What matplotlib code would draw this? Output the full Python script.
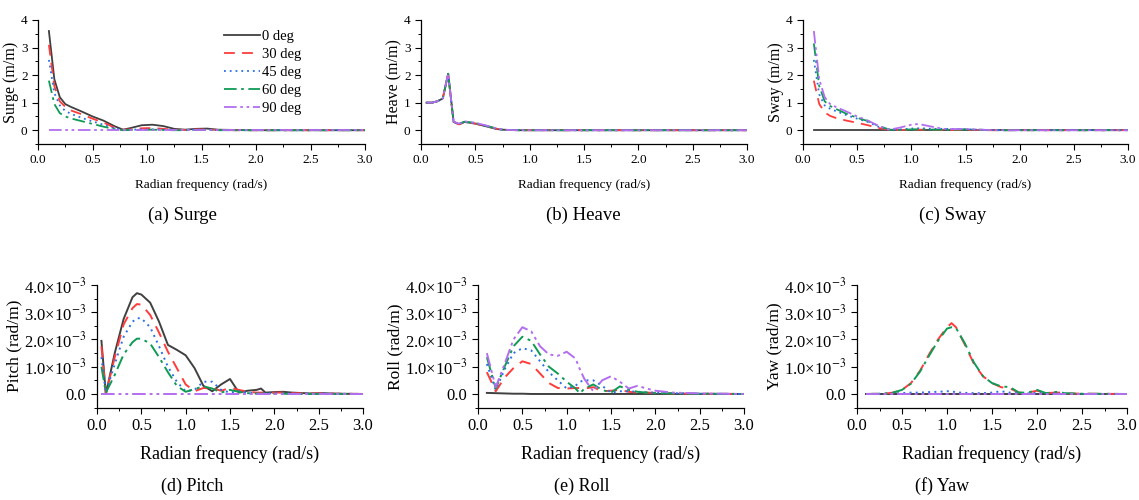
#!/usr/bin/env python3
# plot.py
# Six-panel RAO chart (surge/heave/sway, pitch/roll/yaw) for five wave headings.

import matplotlib
matplotlib.use("Agg")
import matplotlib.pyplot as plt
from matplotlib.ticker import MultipleLocator, FuncFormatter

plt.rcParams["font.family"] = ["Liberation Serif", "DejaVu Serif"]
plt.rcParams["mathtext.fontset"] = "stix"

# headings and styles
LABELS = ["0 deg", "30 deg", "45 deg", "60 deg", "90 deg"]
COLORS = ["#404040", "#ff3b3b", "#2a6ee8", "#0f9a55", "#b36ef0"]
STYLES = ["-", (0, (6, 4)), (0, (1, 2.2)), (0, (7, 2.5, 1.5, 2.5)), (0, (7, 2, 1.5, 2, 1.5, 2))]

# ---- Surge (m/m)
surge_x = [0.1, 0.15, 0.2, 0.25, 0.3, 0.4, 0.5, 0.6, 0.7, 0.78, 0.85, 0.95, 1.05,
           1.15, 1.25, 1.35, 1.45, 1.55, 1.65, 1.8, 2.0, 2.5, 3.0]
surge_0 = [3.6, 1.85, 1.2, 0.95, 0.85, 0.68, 0.5, 0.35, 0.15, 0.02, 0.08, 0.18, 0.2,
           0.15, 0.05, 0.02, 0.05, 0.06, 0.02, 0.01, 0, 0, 0]
surge_30 = [3.1, 1.6, 1.05, 0.85, 0.72, 0.58, 0.42, 0.28, 0.1, 0.02, 0.03, 0.07, 0.08,
            0.05, 0.02, 0.01, 0.03, 0.03, 0.01, 0, 0, 0, 0]
surge_45 = [2.55, 1.35, 0.9, 0.7, 0.6, 0.45, 0.32, 0.2, 0.07, 0.01, 0.02, 0.03, 0.03,
            0.02, 0.01, 0.01, 0.02, 0.02, 0.01, 0, 0, 0, 0]
surge_60 = [1.8, 0.95, 0.62, 0.5, 0.43, 0.33, 0.23, 0.13, 0.04, 0.0, 0.01, 0.01, 0.02,
            0.01, 0, 0, 0.01, 0.01, 0, 0, 0, 0, 0]
surge_90 = [0] * 23

# ---- Heave (m/m)
heave_x = [0.05, 0.1, 0.15, 0.2, 0.25, 0.3, 0.35, 0.4, 0.45, 0.5, 0.55, 0.6, 0.65,
           0.7, 0.75, 0.8, 0.9, 1.0, 1.5, 2.0, 2.5, 3.0]
heave_0 = [1.0, 1.0, 1.05, 1.15, 2.05, 0.3, 0.22, 0.3, 0.27, 0.24, 0.19, 0.14, 0.09,
           0.04, 0.02, 0.01, 0, 0, 0, 0, 0, 0]
heave_30 = [1.0, 1.0, 1.05, 1.15, 2.04, 0.3, 0.21, 0.29, 0.27, 0.24, 0.19, 0.14, 0.1,
            0.05, 0.02, 0.01, 0, 0, 0, 0, 0, 0]
heave_45 = [1.0, 1.0, 1.05, 1.15, 2.04, 0.3, 0.22, 0.3, 0.28, 0.25, 0.2, 0.15, 0.1,
            0.05, 0.02, 0.01, 0, 0, 0, 0, 0, 0]
heave_60 = [1.0, 1.0, 1.05, 1.15, 2.05, 0.31, 0.23, 0.31, 0.29, 0.26, 0.21, 0.16, 0.11,
            0.05, 0.02, 0.01, 0, 0, 0, 0, 0, 0]
heave_90 = [1.0, 1.0, 1.05, 1.15, 2.05, 0.31, 0.24, 0.32, 0.3, 0.27, 0.22, 0.17, 0.12,
            0.06, 0.03, 0.01, 0, 0, 0, 0, 0, 0]

# ---- Sway (m/m)
sway_x = [0.1, 0.15, 0.2, 0.25, 0.3, 0.4, 0.5, 0.6, 0.7, 0.8, 0.9, 1.0, 1.05, 1.1,
          1.2, 1.3, 1.4, 1.5, 1.6, 1.7, 1.8, 2.0, 2.5, 3.0]
sway_0 = [0] * 24
sway_30 = [1.8, 0.95, 0.65, 0.52, 0.45, 0.35, 0.27, 0.18, 0.08, 0.01, 0.01, 0.02, 0.02,
           0.02, 0.02, 0.01, 0.01, 0.01, 0.01, 0, 0, 0, 0, 0]
sway_45 = [2.55, 1.3, 0.9, 0.78, 0.7, 0.55, 0.42, 0.3, 0.12, 0.02, 0.03, 0.06, 0.07,
           0.07, 0.05, 0.05, 0.04, 0.04, 0.02, 0.01, 0, 0, 0, 0]
sway_60 = [3.15, 1.6, 1.05, 0.88, 0.78, 0.6, 0.45, 0.33, 0.15, 0.02, 0.01, 0.03, 0.03,
           0.03, 0.02, 0.02, 0.02, 0.03, 0.02, 0.01, 0, 0, 0, 0]
sway_90 = [3.6, 1.85, 1.2, 0.95, 0.85, 0.68, 0.5, 0.35, 0.15, 0.02, 0.1, 0.2, 0.22,
           0.2, 0.12, 0.05, 0.04, 0.05, 0.03, 0.01, 0, 0, 0, 0]

# ---- Pitch (x1e-3 rad/m)
pitch_x = [0.05, 0.1, 0.2, 0.3, 0.4, 0.45, 0.5, 0.6, 0.7, 0.8, 0.9, 1.0, 1.1, 1.2,
           1.3, 1.4, 1.5, 1.6, 1.7, 1.8, 1.85, 1.9, 2.0, 2.1, 2.2, 2.4, 2.55, 2.7, 3.0]
pitch_0 = [1.95, 0.0, 1.5, 2.75, 3.55, 3.7, 3.65, 3.35, 2.65, 1.8, 1.62, 1.42, 0.95,
           0.3, 0.1, 0.35, 0.55, 0.05, 0.12, 0.15, 0.2, 0.05, 0.07, 0.08, 0.05, 0.02,
           0.03, 0.01, 0]
pitch_30 = [1.75, 0.0, 1.35, 2.55, 3.15, 3.3, 3.28, 2.9, 2.25, 1.55, 0.95, 0.35, 0.1,
            0.22, 0.2, 0.12, 0.22, 0.15, 0.08, 0.05, 0.05, 0.04, 0.05, 0.05, 0.03, 0.02,
            0.02, 0.01, 0]
pitch_45 = [1.35, 0.05, 1.1, 2.1, 2.65, 2.78, 2.78, 2.45, 1.75, 1.0, 0.45, 0.1, 0.15,
            0.45, 0.45, 0.15, 0.05, 0.1, 0.05, 0.02, 0.02, 0.02, 0.03, 0.02, 0.01, 0.01,
            0.01, 0.01, 0]
pitch_60 = [1.0, 0.05, 0.7, 1.45, 1.9, 2.03, 2.03, 1.85, 1.35, 0.8, 0.3, 0.08, 0.18,
            0.28, 0.2, 0.05, 0.15, 0.08, 0.03, 0.01, 0.01, 0.01, 0.01, 0.01, 0, 0,
            0, 0, 0]
pitch_90 = [0] * 29

# ---- Roll (x1e-3 rad/m)
roll_x = [0.1, 0.2, 0.3, 0.4, 0.5, 0.6, 0.7, 0.8, 0.9, 1.0, 1.1, 1.15, 1.2, 1.3, 1.4,
          1.5, 1.6, 1.7, 1.8, 1.9, 2.0, 2.2, 2.5, 3.0]
roll_0 = [0.04, 0.03, 0.02, 0.01, 0.01, 0, 0, 0, 0, 0, 0, 0, 0, 0, 0, 0, 0, 0, 0, 0,
          0, 0, 0, 0]
roll_30 = [0.8, 0.1, 0.6, 0.95, 1.2, 1.1, 0.75, 0.4, 0.22, 0.2, 0.22, 0.22, 0.2, 0.25,
           0.1, 0.12, 0.15, 0.08, 0.05, 0.05, 0.04, 0.02, 0.01, 0]
roll_45 = [1.1, 0.15, 0.9, 1.5, 1.68, 1.6, 1.2, 0.8, 0.5, 0.2, 0.3, 0.45, 0.5, 0.5,
           0.3, 0.05, 0.1, 0.1, 0.08, 0.06, 0.05, 0.03, 0.01, 0]
roll_60 = [1.35, 0.2, 1.0, 1.75, 2.1, 1.95, 1.45, 1.0, 0.75, 0.45, 0.2, 0.02, 0.2,
           0.35, 0.15, 0.05, 0.28, 0.15, 0.08, 0.05, 0.03, 0.02, 0.01, 0]
roll_90 = [1.5, 0.25, 1.1, 2.0, 2.45, 2.3, 1.75, 1.45, 1.4, 1.55, 1.3, 0.9, 0.55, 0.1,
           0.5, 0.65, 0.45, 0.2, 0.3, 0.2, 0.12, 0.05, 0.02, 0]

# ---- Yaw (x1e-3 rad/m)
yaw_x = [0.1, 0.3, 0.4, 0.5, 0.6, 0.7, 0.8, 0.9, 1.0, 1.05, 1.1, 1.2, 1.3, 1.4, 1.5,
         1.6, 1.7, 1.8, 1.9, 2.0, 2.1, 2.2, 2.25, 2.3, 2.5, 3.0]
yaw_0 = [0] * 26
yaw_30 = [0, 0.01, 0.05, 0.15, 0.4, 0.85, 1.45, 2.0, 2.45, 2.6, 2.45, 1.8, 1.1, 0.65,
          0.4, 0.25, 0.2, 0.05, 0.05, 0.12, 0.03, 0.05, 0.05, 0.02, 0.01, 0]
yaw_45 = [0, 0.01, 0.02, 0.03, 0.05, 0.05, 0.07, 0.08, 0.1, 0.1, 0.06, 0.04, 0.03,
          0.03, 0.05, 0.1, 0.05, 0.02, 0.02, 0.04, 0.02, 0.01, 0.01, 0.01, 0, 0]
yaw_60 = [0, 0.01, 0.05, 0.15, 0.38, 0.82, 1.4, 1.95, 2.4, 2.45, 2.42, 1.85, 1.15,
          0.65, 0.4, 0.28, 0.25, 0.05, 0.05, 0.15, 0.03, 0.07, 0.08, 0.03, 0.01, 0]
yaw_90 = [0] * 26

TOP = [
    ("Surge (m/m)", "(a) Surge", surge_x, [surge_0, surge_30, surge_45, surge_60, surge_90]),
    ("Heave (m/m)", "(b) Heave", heave_x, [heave_0, heave_30, heave_45, heave_60, heave_90]),
    ("Sway (m/m)", "(c) Sway", sway_x, [sway_0, sway_30, sway_45, sway_60, sway_90]),
]
BOTTOM = [
    ("Pitch (rad/m)", "(d) Pitch", pitch_x, [pitch_0, pitch_30, pitch_45, pitch_60, pitch_90]),
    ("Roll (rad/m)", "(e) Roll", roll_x, [roll_0, roll_30, roll_45, roll_60, roll_90]),
    ("Yaw (rad/m)", "(f) Yaw", yaw_x, [yaw_0, yaw_30, yaw_45, yaw_60, yaw_90]),
]

W, H = 1139, 500
# axes boxes in pixels: left, right (top/bottom passed separately)
TOP_BOX = [(38, 365), (421, 747), (803, 1128)]
BOT_BOX = [(97, 363), (478, 744), (857, 1127)]
TOP_CAP = [182, 583, 953]
BOT_CAP = [192, 582, 942]


def style_axes(ax, fs):
    for s in ["top", "right"]:
        ax.spines[s].set_visible(False)
    for s in ["left", "bottom"]:
        ax.spines[s].set_linewidth(0.9)
    ax.xaxis.set_major_locator(MultipleLocator(0.5))
    ax.xaxis.set_minor_locator(MultipleLocator(0.25))
    ax.set_xlim(0, 3.0)
    ax.tick_params(which="major", direction="out", length=4, width=0.8, labelsize=fs)
    ax.tick_params(which="minor", direction="out", length=2, width=0.7)
    ax.xaxis.set_major_formatter(FuncFormatter(lambda v, p: f"{v:.1f}"))


def add_axes(fig, box, top, bottom):
    l, r = box
    return fig.add_axes([l / W, 1 - bottom / H, (r - l) / W, (bottom - top) / H])


def sci_fmt(v, p):
    if abs(v) < 1e-12:
        return "0.0"
    return f"{v:.1f}×10$^{{-3}}$"


def main():
    fig = plt.figure(figsize=(W / 100, H / 100), dpi=100)

    for i, (ylab, cap, x, series) in enumerate(TOP):
        ax = add_axes(fig, TOP_BOX[i], 20, 144)
        for y, lab, c, ls in zip(series, LABELS, COLORS, STYLES):
            ax.plot(x, y, color=c, linestyle=ls, linewidth=1.3, label=lab)
        style_axes(ax, 9.5)
        ax.set_ylim(-0.5, 4)
        ax.yaxis.set_major_locator(MultipleLocator(1))
        ax.yaxis.set_minor_locator(MultipleLocator(0.5))
        ax.set_ylabel(ylab, fontsize=11.5, labelpad=1)
        ax.set_xlabel("Radian frequency (rad/s)", fontsize=9.5, labelpad=9)
        fig.text(TOP_CAP[i] / W, 1 - 215 / H, cap, ha="center", va="center", fontsize=13.5)
        if i == 0:
            ax.legend(loc="upper left", bbox_to_anchor=(0.55, 0.968), frameon=False,
                      fontsize=10.5, handlelength=2.5, handletextpad=0.15,
                      labelspacing=0.33, borderaxespad=0)

    for i, (ylab, cap, x, series) in enumerate(BOTTOM):
        ax = add_axes(fig, BOT_BOX[i], 285, 407.6)
        for y, lab, c, ls in zip(series, LABELS, COLORS, STYLES):
            ax.plot(x, [v * 1e-3 for v in y], color=c, linestyle=ls, linewidth=1.4, label=lab)
        style_axes(ax, 12)
        ax.set_ylim(-0.5e-3, 4e-3)
        ax.yaxis.set_major_locator(MultipleLocator(1e-3))
        ax.yaxis.set_minor_locator(MultipleLocator(0.5e-3))
        ax.yaxis.set_major_formatter(FuncFormatter(lambda v, p: sci_fmt(v * 1e3, p)))
        ax.set_ylabel(ylab, fontsize=12.5, labelpad=1.5)
        ax.set_xlabel("Radian frequency (rad/s)", fontsize=13, labelpad=8)
        fig.text(BOT_CAP[i] / W, 1 - 486 / H, cap, ha="center", va="center", fontsize=13)

    fig.savefig("out.png", dpi=100)
    plt.close(fig)


if __name__ == "__main__":
    main()
